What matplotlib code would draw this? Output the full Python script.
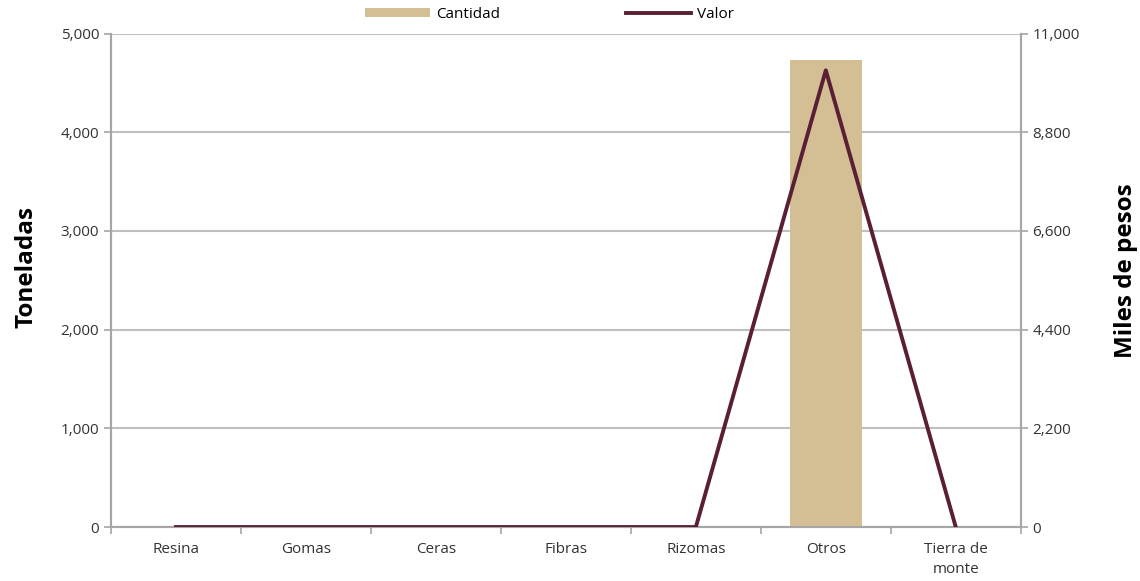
import numpy as np
import matplotlib.pyplot as plt
from matplotlib.ticker import FuncFormatter, FixedLocator

# Data
categorias = ['Resina', 'Gomas', 'Ceras', 'Fibras', 'Rizomas', 'Otros', 'Tierra de\nmonte']
cantidad = [0, 0, 0, 0, 0, 4730, 0]          # Toneladas (left axis)
valor = [0, 0, 0, 0, 0, 10180, 0]            # Miles de pesos (right axis)

plt.rcParams['font.family'] = ['Open Sans', 'DejaVu Sans']

color_bar = '#D4BF95'
color_line = '#5A1F34'
color_grid = '#BFBFBF'
color_spine = '#A6A6A6'

fig = plt.figure(figsize=(11.4, 5.81), dpi=100)
ax = fig.add_axes([0.0974, 0.0929, 0.798, 0.8494])
ax2 = ax.twinx()

x = np.arange(len(categorias))
ax.bar(x, cantidad, width=0.55, color=color_bar, label='Cantidad', zorder=2)
ax2.plot(x, valor, color=color_line, linewidth=2.8, label='Valor', zorder=3)

ax.set_xlim(-0.5, len(categorias) - 0.5)
ax.set_ylim(0, 5000)
ax2.set_ylim(0, 11000)
ax.set_yticks(np.arange(0, 5001, 1000))
ax2.set_yticks(np.arange(0, 11001, 2200))
fmt = FuncFormatter(lambda v, p: f'{int(v):,}')
ax.yaxis.set_major_formatter(fmt)
ax2.yaxis.set_major_formatter(fmt)

# category labels centered, tick marks at boundaries
ax.set_xticks(x)
ax.set_xticklabels(categorias, fontsize=11, color='#333333', linespacing=1.4)
ax.tick_params(axis='x', which='major', length=0, pad=11)
ax.xaxis.set_minor_locator(FixedLocator(np.arange(-0.5, len(categorias), 1.0)))
ax.tick_params(axis='x', which='minor', length=5, color=color_spine, width=1.2)

ax.tick_params(axis='y', length=5, color=color_spine, width=1.2, labelsize=11, labelcolor='#333333')
ax2.tick_params(axis='y', length=5, color=color_spine, width=1.2, labelsize=11, labelcolor='#333333')

ax.grid(axis='y', color=color_grid, linewidth=1.5, zorder=0)
ax.set_axisbelow(True)
for a in (ax, ax2):
    for s in a.spines.values():
        s.set_color(color_spine)
        s.set_linewidth(1.5)
    a.spines['top'].set_visible(False)

ax.set_ylabel('Toneladas', fontsize=17.5, fontweight='bold')
ax.yaxis.set_label_coords(-0.080, 0.526)
ax2.set_ylabel('Miles de pesos', fontsize=17.5, fontweight='bold')
ax2.yaxis.set_label_coords(1.102, 0.52)

h1, l1 = ax.get_legend_handles_labels()
h2, l2 = ax2.get_legend_handles_labels()
fig.legend(h1 + h2, l1 + l2, loc='upper center', bbox_to_anchor=(0.482, 1.012), ncol=2,
           frameon=False, fontsize=11, handlelength=4.3, handleheight=0.5,
           columnspacing=8.2, handletextpad=0.4)

fig.savefig('out.png', dpi=100)
